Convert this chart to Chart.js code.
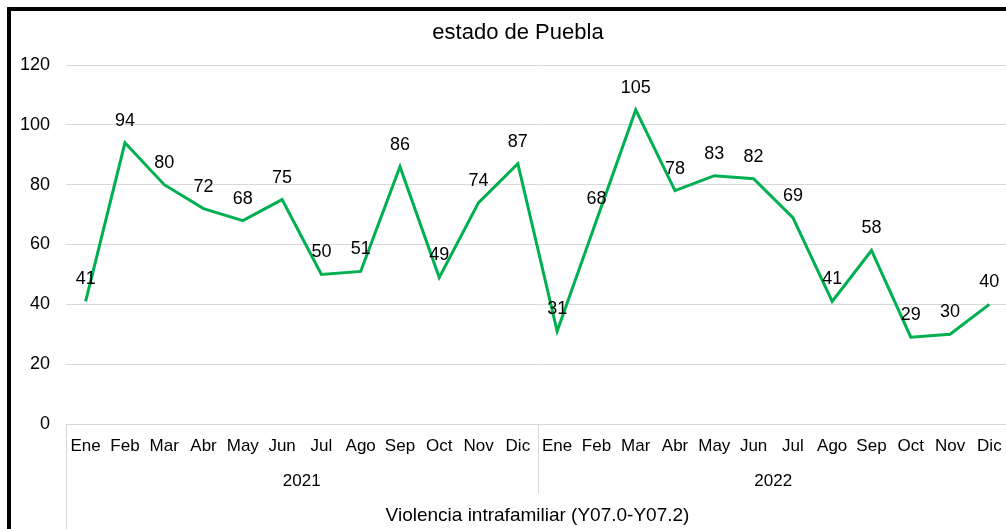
<!DOCTYPE html>
<html>
<head>
<meta charset="utf-8">
<script src="https://cdn.jsdelivr.net/npm/chart.js@4"></script>
<style>
  body { margin: 0; overflow: hidden; background: #fff; }
  #wrap { position: relative; width: 1006px; height: 529px; overflow: hidden; }
  #chart { position: absolute; left: 0; top: 0; }
  #frame { position: absolute; left: 7px; top: 7px; width: 1100px; height: 600px;
           border-left: 4px solid #000; border-top: 4px solid #000; pointer-events: none; }
</style>
</head>
<body>
<div id="wrap">
  <canvas id="chart" width="1010" height="529"></canvas>
  <div id="frame"></div>
</div>
<script>
const months = ["Ene","Feb","Mar","Abr","May","Jun","Jul","Ago","Sep","Oct","Nov","Dic",
                "Ene","Feb","Mar","Abr","May","Jun","Jul","Ago","Sep","Oct","Nov","Dic"];
const years = ["2021", "2022"];
const values = [41, 94, 80, 72, 68, 75, 50, 51, 86, 49, 74, 87,
                31, 68, 105, 78, 83, 82, 69, 41, 58, 29, 30, 40];
const groupLabel = "Violencia intrafamiliar (Y07.0-Y07.2)";
const titleText = "estado de Puebla";

const FONT = "'Liberation Sans', Arial, sans-serif";
const GRID = "#d9d9d9";

// chart title, a bit left of the plot centre like the original
const titleDraw = {
  id: 'titleDraw',
  afterDraw(chart) {
    const ctx = chart.ctx;
    ctx.save();
    ctx.font = "22px " + FONT;
    ctx.fillStyle = "#000";
    ctx.textAlign = "center";
    ctx.textBaseline = "middle";
    ctx.fillText(titleText, chart.width / 2 + 13, 33);
    ctx.restore();
  }
};

// value labels above each point
const pointLabels = {
  id: 'pointLabels',
  afterDatasetsDraw(chart) {
    const ctx = chart.ctx;
    const meta = chart.getDatasetMeta(0);
    ctx.save();
    ctx.font = "18px " + FONT;
    ctx.fillStyle = "#000";
    ctx.textAlign = "center";
    ctx.textBaseline = "middle";
    meta.data.forEach((pt, i) => {
      ctx.fillText(values[i], pt.x, pt.y - 22);
    });
    ctx.restore();
  }
};

// year row + category box lines under the x axis
const yearRow = {
  id: 'yearRow',
  afterDraw(chart) {
    const ctx = chart.ctx;
    const x = chart.scales.x;
    const per = months.length / years.length;
    const step = x.getPixelForValue(1) - x.getPixelForValue(0);
    ctx.save();
    ctx.strokeStyle = GRID;
    ctx.lineWidth = 1;
    ctx.beginPath();
    ctx.moveTo(Math.round(x.left) + 0.5, x.top);
    ctx.lineTo(Math.round(x.left) + 0.5, x.bottom);
    for (let g = 1; g < years.length; g++) {
      const sx = Math.round(x.getPixelForValue(g * per) - step / 2) + 0.5;
      ctx.moveTo(sx, x.top);
      ctx.lineTo(sx, x.top + 70);
    }
    ctx.stroke();
    ctx.font = "17px " + FONT;
    ctx.fillStyle = "#000";
    ctx.textAlign = "center";
    ctx.textBaseline = "middle";
    years.forEach((yr, g) => {
      const cx = (x.getPixelForValue(g * per + per / 2 - 1) + x.getPixelForValue(g * per + per / 2)) / 2;
      ctx.fillText(yr, cx, x.top + 57);
    });
    ctx.restore();
  }
};

new Chart(document.getElementById('chart'), {
  type: 'line',
  data: {
    labels: months,
    datasets: [{
      data: values,
      borderColor: '#00B050',
      borderWidth: 3,
      pointRadius: 0,
      tension: 0,
      fill: false
    }]
  },
  options: {
    responsive: false,
    animation: false,
    layout: { padding: { left: 0, right: 1, top: 65, bottom: 0 } },
    plugins: {
      legend: { display: false },
      tooltip: { enabled: false },
      title: { display: false }
    },
    scales: {
      x: {
        offset: true,
        grid: { display: false },
        border: { display: true, color: GRID, width: 1 },
        ticks: {
          color: '#000',
          font: { family: FONT, size: 17 },
          padding: 4,
          maxRotation: 0,
          autoSkip: false
        },
        title: {
          display: true,
          text: groupLabel,
          color: '#000',
          font: { family: FONT, size: 19 },
          padding: { top: 0, bottom: 2 }
        },
        afterFit(scale) { scale.height = 105; }
      },
      y: {
        min: 0,
        max: 120,
        ticks: {
          stepSize: 20,
          color: '#000',
          font: { family: FONT, size: 18 },
          padding: 16
        },
        grid: { color: GRID, drawTicks: false },
        border: { display: false },
        afterFit(scale) { scale.width = 66; }
      }
    }
  },
  plugins: [pointLabels, yearRow, titleDraw]
});
</script>
</body>
</html>
